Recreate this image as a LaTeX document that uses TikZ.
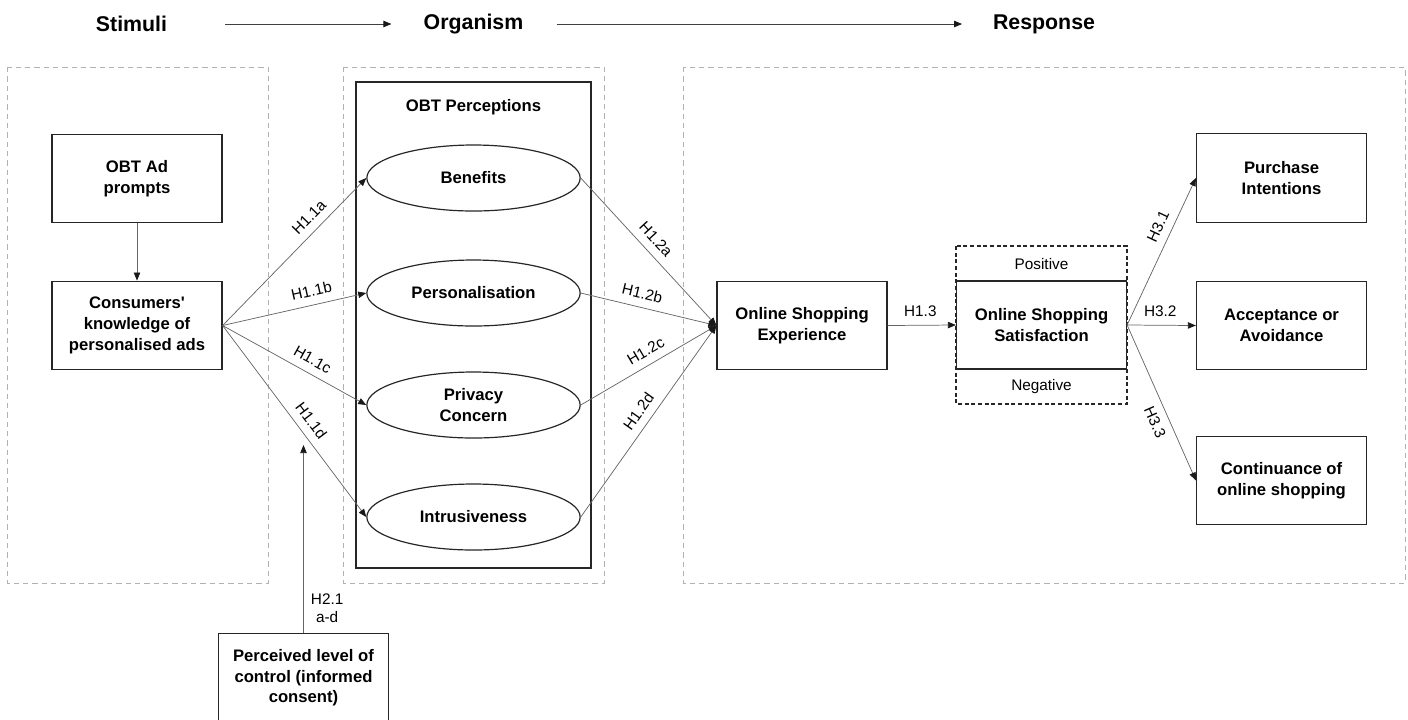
\documentclass[tikz,border=0pt]{standalone}
\usepackage{fontspec}
\setmainfont{Liberation Sans}[Ligatures=TeXOff]
\usetikzlibrary{arrows.meta,shapes.geometric}

\begin{document}
\begin{tikzpicture}[x=0.75pt,y=-0.75pt,
  box/.style={draw=black!85,line width=0.9pt,minimum width=127.5pt,minimum height=66.5pt,align=center,inner sep=2pt,font=\fontsize{12.5}{15.5}\selectfont\bfseries},
  oval/.style={ellipse,draw=black!85,line width=0.9pt,minimum width=160pt,minimum height=49.5pt,align=center,inner sep=1pt,font=\fontsize{12.5}{15.5}\selectfont\bfseries},
  group/.style={draw=black!30,line width=0.6pt,dash pattern=on 4pt off 3pt},
  link/.style={draw=black!60,line width=0.55pt,-{Triangle[length=6pt,width=4.8pt,color=black!90]}},
  hyp/.style={font=\fontsize{11.5}{13.5}\selectfont,sloped,inner sep=2pt},
  head/.style={inner sep=0pt,font=\fontsize{16}{19}\selectfont\bfseries}]
\useasboundingbox (0,0) rectangle (1408,719);

\node[head] (stim) at (131.5,24) {Stimuli};
\node[head] (org) at (473.5,24) {Organism};
\node[head] (resp) at (1044,24) {Response};
\draw[link,draw=black!75,shorten <=43.5pt,shorten >=24pt] (stim.east) -- (org.west);
\draw[link,draw=black!75,shorten <=24.75pt,shorten >=23pt] (org.east) -- (resp.west);

\draw[group] (7,67) rectangle (268,583);
\draw[group] (343,67) rectangle (604,583);
\draw[group] (683,67) rectangle (1405,583);

\node[box] (prompts) at (137,178.5) {OBT Ad\\prompts};
\node[box] (know) at (137,325.5) {Consumers'\\knowledge of\\personalised ads};
\draw[link] (prompts) -- (know);

\draw[draw=black!85,line width=0.9pt] (356,82) rectangle (591,568);
\node[font=\fontsize{12.5}{15.5}\selectfont\bfseries] (perc) at (473.5,107) {OBT Perceptions};
\node[oval] (ben) at (473.5,178) {Benefits};
\node[oval] (pers) at (473.5,293) {Personalisation};
\node[oval] (priv) at (473.5,405) {Privacy\\Concern};
\node[oval] (intr) at (473.5,517) {Intrusiveness};

\draw[link] (know.east) -- (ben.west) node[hyp,above=4pt,pos=0.67] {H1.1a};
\draw[link] (know.east) -- (pers.west) node[hyp,above=4pt,pos=0.64] {H1.1b};
\draw[link] (know.east) -- (priv.west) node[hyp,above=4pt,pos=0.58] {H1.1c};
\draw[link] (know.east) -- (intr.west) node[hyp,above=4pt,pos=0.54] {H1.1d};

\node[box] (exp) at (802,325.5) {Online Shopping\\Experience};
\draw[link] (ben.east) -- (exp.west) node[hyp,above=4pt,pos=0.48] {H1.2a};
\draw[link] (pers.east) -- (exp.west) node[hyp,above=4pt,pos=0.43] {H1.2b};
\draw[link] (priv.east) -- (exp.west) node[hyp,above=4pt,pos=0.53] {H1.2c};
\draw[link] (intr.east) -- (exp.west) node[hyp,above=4pt,pos=0.51] {H1.2d};

\draw[draw=black!85,line width=0.8pt,dash pattern=on 3pt off 2pt] (956,246) rectangle (1127,404);
\node[box,fill=white,minimum height=66pt] (sat) at (1041.5,325) {Online Shopping\\Satisfaction};
\node[font=\fontsize{11.5}{13.5}\selectfont] (pos) at (1041.5,264) {Positive};
\node[font=\fontsize{11.5}{13.5}\selectfont] (neg) at (1041.5,387) {Negative};
\draw[link] (exp.east) -- (sat.west) node[hyp,above=4pt,pos=0.48] {H1.3};

\node[box] (purch) at (1281.5,178) {Purchase\\Intentions};
\node[box] (accept) at (1281.5,325.5) {Acceptance or\\Avoidance};
\node[box] (cont) at (1281.5,480.5) {Continuance of\\online shopping};
\draw[link] (sat.east) -- (purch.west) node[hyp,above=4pt,pos=0.63] {H3.1};
\draw[link] (sat.east) -- (accept.west) node[hyp,above=4pt,pos=0.48] {H3.2};
\draw[link] (sat.east) -- (cont.west) node[hyp,below=4pt,pos=0.59] {H3.3};

\node[box] (ctrl) at (303.5,678) {Perceived level of\\control (informed\\consent)};
\coordinate (ctrlend) at (303.5,445);
\draw[link] (ctrl.north) -- (ctrlend) node[pos=0.13,right,xshift=2pt,align=center,font=\fontsize{11.5}{13.5}\selectfont] {H2.1\\a-d};
\end{tikzpicture}
\end{document}
